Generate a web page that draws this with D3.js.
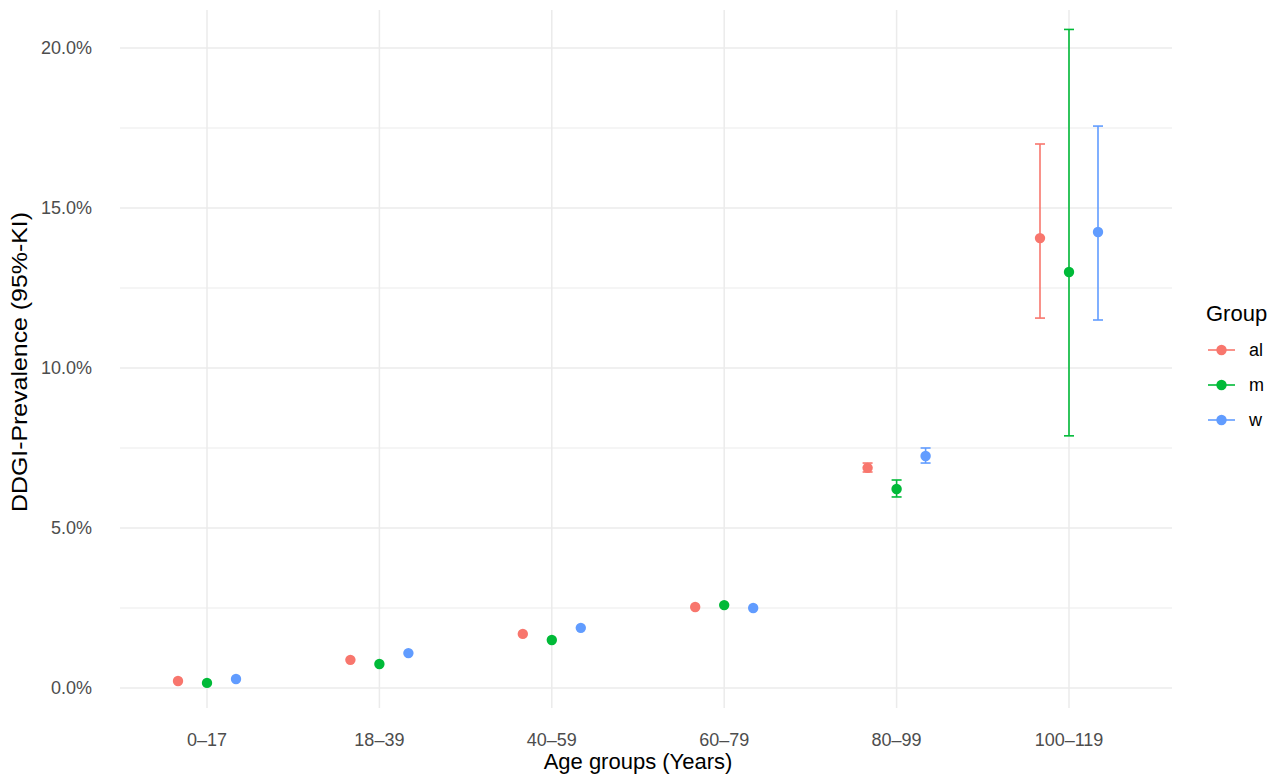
<!DOCTYPE html>
<html><head><meta charset="utf-8">
<script src="https://cdn.jsdelivr.net/npm/d3@7"></script>
<style>body{margin:0;background:#fff;}svg{display:block;font-family:"Liberation Sans",Arial,sans-serif;}</style>
</head><body>
<svg id="c" width="1267" height="779"></svg>
<script>
const categories = ["0–17","18–39","40–59","60–79","80–99","100–119"];
const groups = ["al","m","w"];
const colors = ["#F8766D","#00BA38","#619CFF"];
const alVal = [0.22,0.88,1.69,2.53,6.88,14.06];
const alLo  = [0.22,0.88,1.69,2.53,6.75,11.56];
const alHi  = [0.22,0.88,1.69,2.53,7.03,17.0];
const mVal  = [0.16,0.75,1.5,2.59,6.22,13.0];
const mLo   = [0.16,0.75,1.5,2.59,5.97,7.88];
const mHi   = [0.16,0.75,1.5,2.59,6.5,20.58];
const wVal  = [0.28,1.09,1.88,2.5,7.25,14.25];
const wLo   = [0.28,1.09,1.88,2.5,7.03,11.5];
const wHi   = [0.28,1.09,1.88,2.5,7.5,17.56];
const yTicks = [0,5,10,15,20];
const yMinor = [2.5,7.5,12.5,17.5];

const series = [
  {g:"al", v:alVal, lo:alLo, hi:alHi},
  {g:"m", v:mVal, lo:mLo, hi:mHi},
  {g:"w", v:wVal, lo:wLo, hi:wHi}
];
const svg = d3.select("#c");
const panel = {l:120, r:1172, t:10, b:708};
const x = d3.scalePoint().domain(categories).range([207,1069]);
const y = d3.scaleLinear().domain([0,20]).range([688,48]);
const dodge = d3.scalePoint().domain(groups).range([-29,29]);
const color = d3.scaleOrdinal().domain(groups).range(colors);
const grid = "#ebebeb";

const g = svg.append("g");
yMinor.forEach(t=>g.append("line").attr("x1",panel.l).attr("x2",panel.r).attr("y1",y(t)).attr("y2",y(t)).attr("stroke",grid).attr("stroke-width",1.2));
yTicks.forEach(t=>g.append("line").attr("x1",panel.l).attr("x2",panel.r).attr("y1",y(t)).attr("y2",y(t)).attr("stroke",grid).attr("stroke-width",1.5));
categories.forEach(c=>g.append("line").attr("x1",x(c)).attr("x2",x(c)).attr("y1",panel.t).attr("y2",panel.b).attr("stroke",grid).attr("stroke-width",1.5));

// tick labels
yTicks.forEach(t=>svg.append("text").attr("x",92).attr("y",y(t)).attr("dy","0.35em").attr("text-anchor","end")
  .attr("fill","#4d4d4d").attr("font-size",18).text(t.toFixed(1)+"%"));
categories.forEach(c=>svg.append("text").attr("x",x(c)).attr("y",746).attr("text-anchor","middle")
  .attr("fill","#4d4d4d").attr("font-size",18).text(c));

svg.append("text").attr("x",638).attr("y",769).attr("text-anchor","middle").attr("font-size",22).attr("fill","#000").text("Age groups (Years)");
svg.append("text").attr("transform","translate(27,362) rotate(-90)").attr("text-anchor","middle").attr("font-size",22)
  .attr("textLength",300).attr("lengthAdjust","spacingAndGlyphs").attr("fill","#000").text("DDGI-Prevalence (95%-KI)");

// error bars and points
series.forEach(s=>{
  const col = color(s.g);
  categories.forEach((c,i)=>{
    const cx = x(c)+dodge(s.g);
    if (s.hi[i] > s.lo[i]) {
      g.append("line").attr("x1",cx).attr("x2",cx).attr("y1",y(s.lo[i])).attr("y2",y(s.hi[i])).attr("stroke",col).attr("stroke-width",1.6);
      [s.lo[i],s.hi[i]].forEach(v=>g.append("line").attr("x1",cx-5).attr("x2",cx+5).attr("y1",y(v)).attr("y2",y(v)).attr("stroke",col).attr("stroke-width",1.6));
    }
    g.append("circle").attr("cx",cx).attr("cy",y(s.v[i])).attr("r",5.2).attr("fill",col);
  });
});

// legend
svg.append("text").attr("x",1206).attr("y",321).attr("font-size",22).attr("fill","#000").text("Group");
groups.forEach((gr,i)=>{
  const ly = 350 + i*35;
  svg.append("line").attr("x1",1208).attr("x2",1235).attr("y1",ly).attr("y2",ly).attr("stroke",color(gr)).attr("stroke-width",1.6);
  svg.append("circle").attr("cx",1221.5).attr("cy",ly).attr("r",5.2).attr("fill",color(gr));
  svg.append("text").attr("x",1249).attr("y",ly).attr("dy","0.35em").attr("font-size",18).attr("fill","#000").text(gr);
});
</script>
</body></html>
